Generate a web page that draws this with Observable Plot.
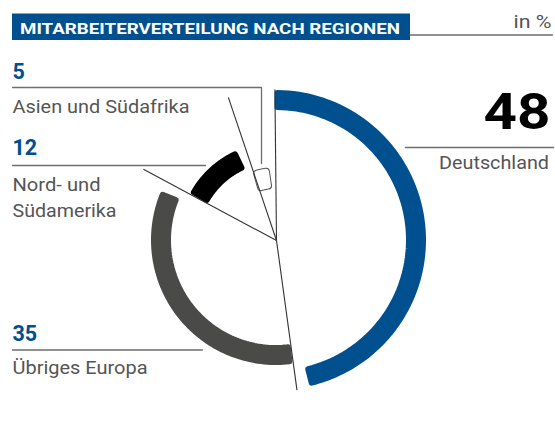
<!DOCTYPE html>
<html><head><meta charset="utf-8">
<script src="https://cdn.jsdelivr.net/npm/d3@7"></script>
<script src="https://cdn.jsdelivr.net/npm/@observablehq/plot@0.6"></script>
<style>body{margin:0;background:#fff} svg{display:block}</style>
</head><body><div id="chart"></div>
<script>
// ---- data ----
const regions = ["Deutschland", "Übriges Europa", "Nord- und Südamerika", "Asien und Südafrika"];
const shares = [48, 35, 12, 5];
const nameLines = [["Deutschland"], ["Übriges Europa"], ["Nord- und", "Südamerika"], ["Asien und Südafrika"]];
const colors = ["#00508f", "#4a4a49", "#000000", "#ffffff"];
const titleText = "MITARBEITERVERTEILUNG NACH REGIONEN";
const unitText = "in %";

// ---- layout ----
const W = 555, H = 429, CX = 276, CY = 240;
const rings = [[130, 150], [105, 125], [77, 98], [52, 72]];
const ROT = -0.6, PAD = 5, CORNER = 3, SEP = 151;
const BLUE = "#00508f", GREY = "#555555", RULE = "#6e6e6e";
const X = px => px - CX, Y = py => CY - py;
const deg = Math.PI / 180;

const cum = d3.cumsum(shares);
const bands = [];
shares.forEach((v, i) => {
  const [r0, r1] = rings[i];
  const rm = (r0 + r1) / 2, da = CORNER / rm / deg;
  const a0 = (cum[i] - v) / 100 * 360 + ROT + da;
  const a1 = cum[i] / 100 * 360 + ROT - PAD - da;
  const ri = r0 + CORNER, ro = r1 - CORNER, n = 80;
  for (let k = 0; k <= n; k++) {
    const a = (a0 + (a1 - a0) * k / n) * deg;
    bands.push({region: regions[i], x1: ri * Math.sin(a), y1: ri * Math.cos(a), x2: ro * Math.sin(a), y2: ro * Math.cos(a)});
  }
});
const boundaries = [0, ...cum.slice(0, -1)].map(c => {
  const a = (c / 100 * 360 + ROT) * deg;
  return {x2: SEP * Math.sin(a), y2: SEP * Math.cos(a)};
});

// label layout (pixel positions)
const lab = {
  "Asien und Südafrika": {num: [12, 78.5], rule: [[12, 87], [261, 87], [261, 163]], names: [[12, 112, 177]]},
  "Nord- und Südamerika": {num: [12, 154.5], rule: [[12, 165], [205, 165]], names: [[12, 190, 88], [12, 216, 104]]},
  "Übriges Europa": {num: [12, 340.5], rule: [[12, 349.5], [202, 349.5]], names: [[12, 373.5, 135]]}
};
const numL = [], nameL = [], numR = [], nameR = [], ruleLines = [], fit = {};
regions.forEach((r, i) => {
  if (lab[r]) {
    const L = lab[r];
    numL.push({t: String(shares[i]), x: X(L.num[0]), y: Y(L.num[1])});
    L.rule.forEach(p => ruleLines.push({k: r, x: X(p[0]), y: Y(p[1])}));
    nameLines[i].forEach((s, j) => {
      const n = L.names[j];
      nameL.push({t: s, x: X(n[0]), y: Y(n[1])});
      fit[s] = [n[2], "spacingAndGlyphs"];
    });
  } else {
    numR.push({t: String(shares[i]), x: X(550), y: Y(128.5)});
    fit[String(shares[i])] = [67, "spacingAndGlyphs"];
    ruleLines.push({k: r, x: X(405), y: Y(147)}, {k: r, x: X(553), y: Y(147)});
    nameR.push({t: nameLines[i][0], x: X(548.5), y: Y(168.5)});
    fit[nameLines[i][0]] = [110, "spacingAndGlyphs"];
  }
});
fit[titleText] = [380, "spacingAndGlyphs"];
fit[unitText] = [38, "spacingAndGlyphs"];
ruleLines.push({k: "t", x: X(410), y: Y(34.5)}, {k: "t", x: X(552), y: Y(34.5)});

const coloured = bands.filter(d => d.region !== regions[3]);
const white = bands.filter(d => d.region === regions[3]);
const FONT = "Roboto, 'Open Sans', sans-serif";

const chart = Plot.plot({
  width: W, height: H, margin: 0,
  x: {domain: [X(0), X(W)], axis: null},
  y: {domain: [Y(H), Y(0)], axis: null},
  color: {domain: regions, range: colors},
  style: {fontFamily: FONT, background: "#fff"},
  marks: [
    Plot.rect([0], {x1: X(12), x2: X(410), y1: Y(40), y2: Y(13.5), fill: BLUE}),
    Plot.area(coloured, {x1: "x1", y1: "y1", x2: "x2", y2: "y2", z: "region", fill: "region", stroke: "region", strokeWidth: 2 * CORNER, strokeLinejoin: "round", curve: "linear"}),
    Plot.area(white, {x1: "x1", y1: "y1", x2: "x2", y2: "y2", z: "region", fill: "#555", stroke: "#555", strokeWidth: 2 * CORNER + 2, strokeLinejoin: "round", curve: "linear"}),
    Plot.area(white, {x1: "x1", y1: "y1", x2: "x2", y2: "y2", z: "region", fill: "#fff", stroke: "#fff", strokeWidth: 2 * CORNER, strokeLinejoin: "round", curve: "linear"}),
    Plot.link(boundaries, {x1: 0, y1: 0, x2: "x2", y2: "y2", stroke: "#333", strokeWidth: 1.1}),
    Plot.line(ruleLines, {x: "x", y: "y", z: "k", stroke: RULE, strokeWidth: 1.3}),
    Plot.text(numL, {x: "x", y: "y", text: "t", fill: BLUE, fontSize: 21.5, fontWeight: "bold", textAnchor: "start", lineAnchor: "bottom"}),
    Plot.text(nameL, {x: "x", y: "y", text: "t", fill: GREY, fontSize: 18.5, textAnchor: "start", lineAnchor: "bottom"}),
    Plot.text(numR, {x: "x", y: "y", text: "t", fill: "#000", fontSize: 50, fontWeight: "bold", textAnchor: "end", lineAnchor: "bottom"}),
    Plot.text(nameR, {x: "x", y: "y", text: "t", fill: GREY, fontSize: 18.5, textAnchor: "end", lineAnchor: "bottom"}),
    Plot.text([titleText], {x: X(19.5), y: Y(33.5), text: d => d, fill: "#fff", fontSize: 15.5, fontWeight: "bold", textAnchor: "start", lineAnchor: "bottom"}),
    Plot.text([unitText], {x: X(551), y: Y(27), text: d => d, fill: GREY, fontSize: 18.5, textAnchor: "end", lineAnchor: "bottom"})
  ]
});
document.getElementById("chart").appendChild(chart);
d3.select(chart).selectAll("text").each(function () {
  const t = this.textContent;
  if (fit[t]) { this.setAttribute("textLength", fit[t][0]); this.setAttribute("lengthAdjust", fit[t][1]); }
});
</script></body></html>
